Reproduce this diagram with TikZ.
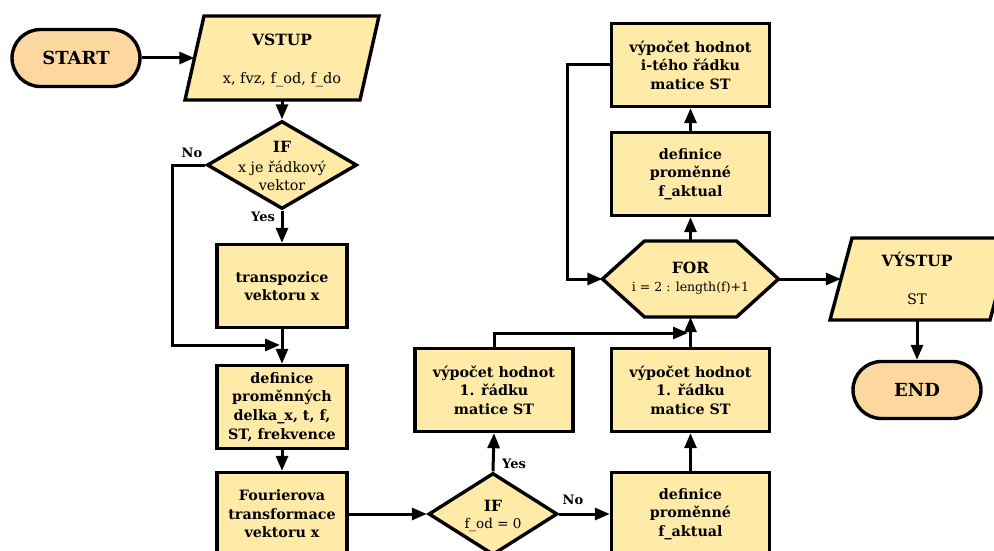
\documentclass[tikz,border=0pt]{standalone}
\usepackage{fontspec}
\setmainfont{DejaVu Serif}
\usetikzlibrary{shapes.geometric,shapes.misc,arrows.meta}
\definecolor{boxfill}{RGB}{255,234,168}
\definecolor{termfill}{RGB}{252,216,160}
\tikzset{
  outl/.style={draw=black, line width=3.4pt, line join=miter},
  proc/.style={outl, fill=boxfill, rectangle, minimum width=158pt, minimum height=83pt, inner sep=0pt, align=center, font=\bfseries\fontsize{14.3}{18.6}\selectfont},
  procs/.style={proc, minimum width=130pt},
  term/.style={outl, fill=termfill, rounded rectangle, minimum width=128pt, minimum height=57pt, inner sep=0pt, font=\bfseries\fontsize{18}{20}\selectfont},
  dia/.style={outl, fill=boxfill, diamond, inner sep=0pt},
  holder/.style={rectangle, draw=none, inner sep=0pt},
  conn/.style={line width=3pt, -{Triangle[length=15pt,width=12pt]}},
  lbl/.style={font=\bfseries\fontsize{13}{15}\selectfont, inner sep=0pt},
  ttl/.style={font=\bfseries\fontsize{15.5}{18}\selectfont, inner sep=0pt},
  sub/.style={font=\fontsize{14.5}{18}\selectfont, inner sep=0pt, align=center}
}
\begin{document}
\begin{tikzpicture}[x=1pt,y=-1pt]
\useasboundingbox (0,0) rectangle (994,551);

% terminals
\node[term] (start) at (76,58) {START};
\node[term] (end) at (917,390) {END};

% VSTUP parallelogram
\draw[outl, fill=boxfill] (204,16) -- (379,16) -- (360,100) -- (185,100) -- cycle;
\node[holder, minimum width=175pt, minimum height=84pt] (vstup) at (282,58) {};
\node[ttl] (vstupt) at (282,40) {VSTUP};
\node[sub] (vstupc) at (282,80) {x, fvz, f\_od, f\_do};

% IF 1
\node[dia, minimum width=150pt, minimum height=88pt] (if1) at (282,165) {};
\node[ttl] (if1t) at (282,147) {IF};
\node[sub, font=\fontsize{14.3}{18}\selectfont] (if1c) at (282,176) {x je řádkový\\vektor};

% left column
\node[procs] (trans) at (282,286) {transpozice\\vektoru x};
\node[procs] (def1) at (282,407) {definice\\proměnných\\delka\_x, t, f,\\ST, frekvence};
\node[procs] (four) at (282,514) {Fourierova\\transformace\\vektoru x};

% IF 2
\node[dia, minimum width=129pt, minimum height=82pt] (if2) at (493,514) {};
\node[ttl] (if2t) at (493,506) {IF};
\node[sub, font=\fontsize{13.5}{16}\selectfont] (if2c) at (493,525) {f\_od = 0};

% middle and right columns
\node[proc] (vy1) at (494,390) {výpočet hodnot\\1. řádku\\matice ST};
\node[proc] (defa) at (690.5,514) {definice\\proměnné\\f\_aktual};
\node[proc] (vy2) at (690.5,390) {výpočet hodnot\\1. řádku\\matice ST};
\node[proc] (defb) at (690.5,174) {definice\\proměnné\\f\_aktual};
\node[proc] (vy3) at (690.5,65) {výpočet hodnot\\i-tého řádku\\matice ST};

% FOR hexagon
\draw[outl, fill=boxfill] (602.5,279) -- (644.5,241) -- (736.5,241) -- (778.5,279) -- (736.5,317) -- (644.5,317) -- cycle;
\node[holder, minimum width=176pt, minimum height=76pt] (for) at (690.5,279) {};
\node[ttl] (fort) at (690.5,268) {FOR};
\node[sub, font=\fontsize{12.5}{15}\selectfont] (forc) at (690.5,288) {i = 2 : length(f)+1};

% VYSTUP parallelogram
\draw[outl, fill=boxfill] (852,238) -- (1012,238) -- (990,320) -- (830,320) -- cycle;
\node[holder, minimum width=152pt, minimum height=82pt] (vystup) at (917,279) {};
\node[ttl] (vystupt) at (917,259) {VÝSTUP};
\node[sub] (vystupc) at (917,299) {ST};

% connectors
\draw[conn] (start.east) -- (vstup.west);
\draw[conn] (vstup.south) -- (if1.north);
\draw[conn] (if1.south) -- (trans.north);
\node[lbl] (yes1) at (263,217) {Yes};
\coordinate (l1) at (172,165);
\coordinate (l2) at (280,345);
\draw[conn] (if1.west) -- (l1) |- (l2);
\node[lbl] (no1) at (192,153) {No};
\draw[conn] (trans.south) -- (def1.north);
\draw[conn] (def1.south) -- (four.north);
\draw[conn] (four.east) -- (if2.west);
\draw[conn] (if2.north) -- (vy1.south);
\node[lbl] (yes2) at (514,464) {Yes};
\draw[conn] (if2.east) -- (defa.west);
\node[lbl] (no2) at (573,500) {No};
\draw[conn] (defa.north) -- (vy2.south);
\draw[conn] (vy2.north) -- (for.south);
\coordinate (m1) at (494,333);
\coordinate (m2) at (688,333);
\draw[conn] (vy1.north) -- (m1) -- (m2);
\draw[conn] (for.north) -- (defb.south);
\draw[conn] (defb.north) -- (vy3.south);
\coordinate (r1) at (567,65);
\draw[conn] (vy3.west) -- (r1) |- (for.west);
\draw[conn] (for.east) -- (vystup.west);
\draw[conn] (vystup.south) -- (end.north);
\end{tikzpicture}
\end{document}
